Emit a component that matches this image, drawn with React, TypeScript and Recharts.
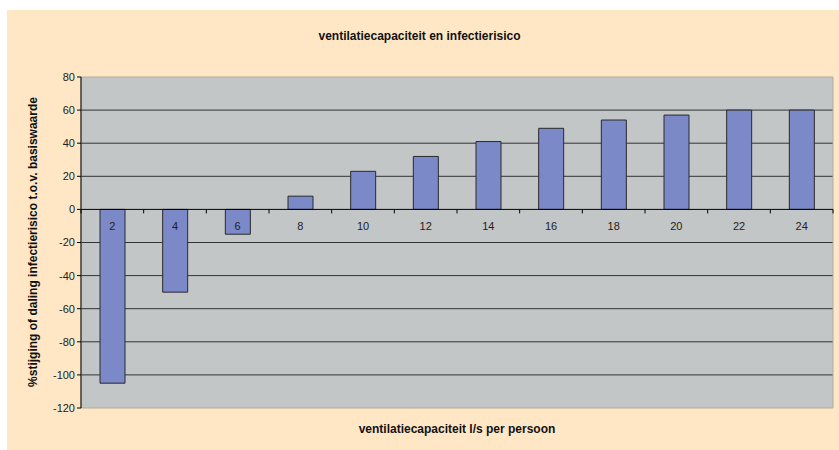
import {
  BarChart,
  Bar,
  XAxis,
  YAxis,
  CartesianGrid,
  ReferenceLine,
  ReferenceArea,
} from "recharts";

const capacities = ["2", "4", "6", "8", "10", "12", "14", "16", "18", "20", "22", "24"];
const riskChange = [-105, -50, -15, 8, 23, 32, 41, 49, 54, 57, 60, 60];
const yTicks = [80, 60, 40, 20, 0, -20, -40, -60, -80, -100, -120];
const gridValues = [60, 40, 20, -20, -40, -60, -80, -100];

const data = capacities.map((c, i) => ({ cap: c, value: riskChange[i] }));

const W = 839;
const H = 450;
const PLOT_LEFT = 81;
const PLOT_RIGHT = 833;
const PLOT_TOP = 77;
const PLOT_BOTTOM = 408;
const Y_MAX = 80;
const Y_MIN = -120;
const zeroY = PLOT_TOP + ((PLOT_BOTTOM - PLOT_TOP) * Y_MAX) / (Y_MAX - Y_MIN);
const band = (PLOT_RIGHT - PLOT_LEFT) / capacities.length;

const FONT = '"Liberation Sans", Arial, sans-serif';

// category labels sit just under the zero line, like Excel does
const CategoryTick = (props: any) => {
  const { x, payload, index } = props;
  const left = x - band / 2;
  return (
    <g>
      <line x1={left} x2={left} y1={zeroY} y2={zeroY + 4} stroke="#000" />
      {index === capacities.length - 1 && (
        <line x1={left + band} x2={left + band} y1={zeroY} y2={zeroY + 4} stroke="#000" />
      )}
      <text
        x={x}
        y={zeroY + 21}
        textAnchor="middle"
        fontSize={11}
        fontFamily={FONT}
        fill="#222"
      >
        {payload.value}
      </text>
    </g>
  );
};

const titleStyle = {
  position: "absolute" as const,
  textAlign: "center" as const,
  fontFamily: FONT,
  fontSize: 12,
  fontWeight: "bold" as const,
  color: "#111",
  whiteSpace: "nowrap" as const,
};

export default function App() {
  return (
    <div style={{ position: "absolute", left: 0, top: 0, width: W, height: H, background: "#fff" }}>
      <div
        style={{
          position: "absolute",
          left: 7,
          top: 10,
          width: W - 7,
          height: H - 10,
          background: "#ffe7c5",
        }}
      />
      <div style={{ position: "absolute", left: 0, top: 0 }}>
        <BarChart
          width={W}
          height={H}
          data={data}
          margin={{ top: PLOT_TOP, right: W - PLOT_RIGHT, left: PLOT_LEFT - 40, bottom: H - PLOT_BOTTOM - 30 }}
        >
          <CartesianGrid
            vertical={false}
            horizontalValues={gridValues}
            stroke="#333"
            fill="#c3c6c6"
            fillOpacity={1}
          />
          <ReferenceArea y1={Y_MIN} y2={Y_MAX} fill="none" stroke="#b3ad99" strokeWidth={1} ifOverflow="visible" />
          <XAxis
            dataKey="cap"
            height={30}
            axisLine={false}
            tickLine={false}
            tick={<CategoryTick />}
            interval={0}
          />
          <YAxis
            width={40}
            domain={[Y_MIN, Y_MAX]}
            ticks={yTicks}
            interval={0}
            axisLine={{ stroke: "#000" }}
            tickLine={{ stroke: "#000" }}
            tickSize={4}
            tick={{ fontSize: 11, fontFamily: FONT, fill: "#222" }}
          />
          <Bar
            dataKey="value"
            barSize={25}
            fill="#7b89c8"
            stroke="#2a2a2a"
            strokeWidth={1}
            isAnimationActive={false}
          />
          <ReferenceLine y={0} stroke="#000" strokeWidth={1} />
        </BarChart>
      </div>
      <div style={{ ...titleStyle, left: 0, width: W, top: 29 }}>
        ventilatiecapaciteit en infectierisico
      </div>
      <div style={{ ...titleStyle, left: PLOT_LEFT, width: PLOT_RIGHT - PLOT_LEFT, top: 422 }}>
        ventilatiecapaciteit l/s per persoon
      </div>
      <div
        style={{
          ...titleStyle,
          left: 33 - 170,
          width: 340,
          top: (PLOT_TOP + PLOT_BOTTOM) / 2 - 8,
          transform: "rotate(-90deg)",
        }}
      >
        %stijging of daling infectierisico t.o.v. basiswaarde
      </div>
    </div>
  );
}
